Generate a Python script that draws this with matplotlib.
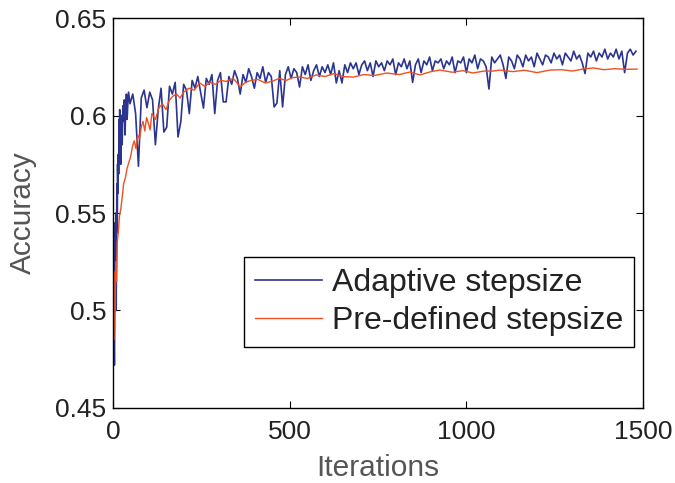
import numpy as np
import matplotlib.pyplot as plt

plt.rcParams['font.family'] = ['Liberation Sans', 'DejaVu Sans']

# === DATA ===
# Adaptive stepsize: dense early part, then one value every 8 iterations
blue_early_iter = [1, 2, 3, 4, 5, 6, 7, 8, 9, 10, 11, 12, 13, 14, 15, 16, 17, 18, 19, 20,
                   22, 24, 26, 28, 30, 32, 34, 36, 38, 40, 42, 44]
blue_early_acc = [0.51, 0.535, 0.49, 0.472, 0.50, 0.545, 0.52, 0.55, 0.50, 0.53,
                  0.565, 0.54, 0.575, 0.56, 0.58, 0.57, 0.598, 0.58, 0.603, 0.59,
                  0.575, 0.60, 0.585, 0.605, 0.597, 0.608, 0.59, 0.603, 0.611, 0.598,
                  0.606, 0.612]
blue_start, blue_step = 48, 8
blue_acc = [
    0.606, 0.611, 0.601, 0.574, 0.609, 0.613, 0.604, 0.612, 0.608, 0.585,
    0.603, 0.614, 0.5915, 0.594, 0.615, 0.611, 0.617, 0.589, 0.597, 0.616,
    0.613, 0.601, 0.618, 0.614, 0.620, 0.612, 0.6038, 0.619, 0.616, 0.621,
    0.601, 0.618, 0.622, 0.607, 0.607, 0.620, 0.616, 0.623, 0.619, 0.611,
    0.621, 0.617, 0.624, 0.620, 0.614, 0.622, 0.619, 0.625, 0.617, 0.622,
    0.620, 0.6044, 0.6064, 0.623, 0.6044, 0.621, 0.625, 0.619, 0.624, 0.622,
    0.6146, 0.625, 0.621, 0.626, 0.618, 0.623, 0.626, 0.620, 0.625, 0.622,
    0.626, 0.621, 0.627, 0.6167, 0.623, 0.6167, 0.626, 0.622, 0.627, 0.624,
    0.627, 0.621, 0.626, 0.628, 0.623, 0.627, 0.620, 0.628, 0.625, 0.627,
    0.623, 0.628, 0.626, 0.629, 0.621, 0.627, 0.625, 0.629, 0.624, 0.628,
    0.617, 0.626, 0.629, 0.622, 0.628, 0.626, 0.630, 0.623, 0.628, 0.627,
    0.629, 0.624, 0.628, 0.626, 0.630, 0.622, 0.628, 0.627, 0.630, 0.622,
    0.629, 0.627, 0.631, 0.624, 0.629, 0.628, 0.625, 0.6136, 0.630, 0.627,
    0.629, 0.631, 0.626, 0.619, 0.630, 0.628, 0.624, 0.631, 0.629, 0.625,
    0.631, 0.628, 0.630, 0.625, 0.632, 0.629, 0.626, 0.631, 0.630, 0.627,
    0.632, 0.629, 0.631, 0.626, 0.632, 0.630, 0.628, 0.633, 0.629, 0.631,
    0.627, 0.6215, 0.632, 0.630, 0.633, 0.628, 0.632, 0.630, 0.634, 0.629,
    0.632, 0.630, 0.634, 0.629, 0.633, 0.622, 0.632, 0.634, 0.631, 0.633,
]

# Pre-defined stepsize
red_iter = [1, 2, 3, 4, 5, 6, 8, 10, 12, 15, 18, 22, 26, 30, 35, 40, 45, 50, 55, 60,
            65, 70, 75, 80, 85, 90, 95, 100, 105, 110, 120, 130, 140, 150, 160, 170, 180,
            190, 200, 215, 230, 245, 260, 275, 290, 305, 320, 340, 350, 360, 375, 390,
            410, 430, 450, 470, 490, 510, 530, 550, 575, 600, 625, 650, 680, 710, 740,
            775, 810, 840, 869, 900, 925, 960, 990, 1019, 1050, 1076, 1095, 1130, 1165,
            1200, 1237, 1270, 1300, 1330, 1359, 1390, 1420, 1450, 1483]
red_acc = [0.50, 0.485, 0.51, 0.49, 0.52, 0.50, 0.525, 0.515, 0.535, 0.54, 0.548, 0.552,
           0.558, 0.565, 0.568, 0.573, 0.576, 0.579, 0.584, 0.587, 0.583, 0.59, 0.588,
           0.594, 0.597, 0.592, 0.599, 0.596, 0.5926, 0.601, 0.598, 0.604, 0.606, 0.603,
           0.608, 0.61, 0.611, 0.609, 0.612, 0.614, 0.613, 0.6167, 0.615, 0.617, 0.616,
           0.618, 0.6175, 0.619, 0.617, 0.6146, 0.617, 0.618, 0.6185, 0.6167, 0.6175,
           0.619, 0.618, 0.6195, 0.6197, 0.619, 0.6208, 0.620, 0.6215, 0.620, 0.6197,
           0.621, 0.6205, 0.6218, 0.621, 0.6223, 0.6208, 0.6225, 0.6233, 0.6222, 0.623,
           0.6218, 0.6228, 0.6228, 0.6233, 0.6225, 0.6232, 0.622, 0.6233, 0.6235, 0.6228,
           0.6238, 0.6244, 0.6235, 0.624, 0.6237, 0.6238]

x_ticks = [0, 500, 1000, 1500]
y_ticks = [0.45, 0.5, 0.55, 0.6, 0.65]
y_tick_labels = ["0.45", "0.5", "0.55", "0.6", "0.65"]

# === PLOT ===
blue_x = blue_early_iter + [blue_start + blue_step * k for k in range(len(blue_acc))]
blue_y = blue_early_acc + blue_acc

fig = plt.figure(figsize=(6.75, 4.83), dpi=100)
ax = fig.add_axes([0.1674, 0.1553, 0.7852, 0.8074])

ax.plot(blue_x, blue_y, color="#2b3590", lw=1.2, label="Adaptive stepsize")
ax.plot(red_iter, red_acc, color="#f24f22", lw=1.0, label="Pre-defined stepsize")

ax.set_xlim(0, 1500)
ax.set_ylim(0.45, 0.65)
ax.set_xticks(x_ticks)
ax.set_yticks(y_ticks)
ax.set_yticklabels(y_tick_labels)
ax.tick_params(direction="in", length=5, width=0.8, top=True, right=True,
               labelsize=19, labelcolor="#222222", pad=5)
ax.tick_params(axis="x", pad=9)
for s in ax.spines.values():
    s.set_linewidth(1.0)

ax.set_xlabel("Iterations", fontsize=21.5, color="#555555", labelpad=7)
ax.set_ylabel("Accuracy", fontsize=21.5, color="#555555", labelpad=13)

leg = ax.legend(loc="lower right", bbox_to_anchor=(0.983, 0.156), borderaxespad=0,
                fontsize=23, fancybox=False, edgecolor="black", framealpha=1,
                handlelength=2.1, handletextpad=0.3, borderpad=0.35, labelspacing=0.25)
leg.get_frame().set_linewidth(1.0)
for t in leg.get_texts():
    t.set_color("#222222")

fig.savefig("out.png", dpi=100)
